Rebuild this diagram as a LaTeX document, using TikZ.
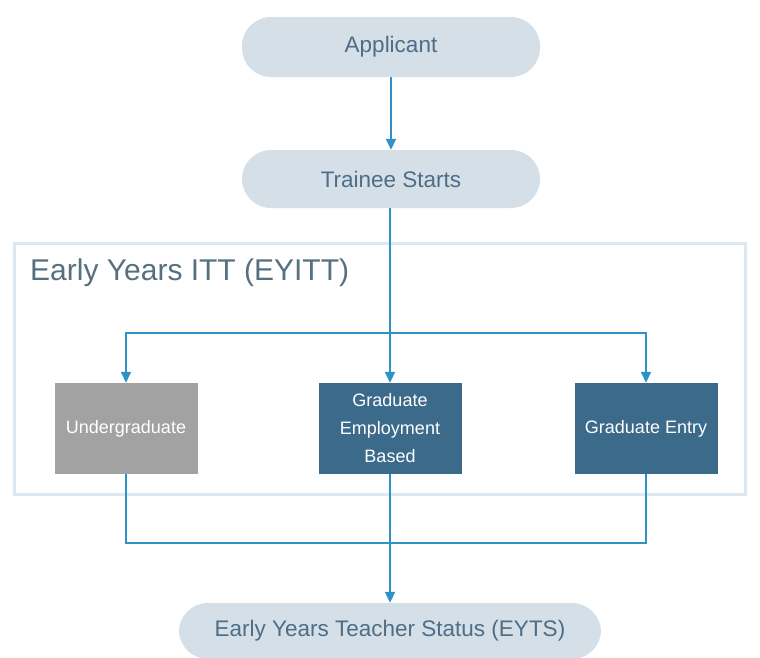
\documentclass[tikz,border=0pt]{standalone}
\usepackage{fontspec}
\setmainfont{Liberation Sans}
\usetikzlibrary{arrows.meta}
\definecolor{pillfill}{HTML}{D4DFE7}
\definecolor{pilltext}{HTML}{4F6D86}
\definecolor{arrowc}{HTML}{2E92C9}
\definecolor{darkbox}{HTML}{3C6A8B}
\definecolor{graybox}{HTML}{A2A2A2}
\definecolor{framec}{HTML}{DCE7EF}
\definecolor{titlec}{HTML}{55707F}
\tikzset{
  pill/.style={draw=none, fill=pillfill, rounded corners=29pt, text=pilltext, font=\fontsize{22.5}{26}\selectfont, inner sep=0pt},
  boxn/.style={draw=none, minimum width=143pt, minimum height=91pt, text=white, font=\fontsize{18}{28}\selectfont, align=center, inner sep=0pt},
  conn/.style={draw=arrowc, line width=1.8pt},
  tip/.style={-{Triangle[width=10pt,length=11pt]}}
}
\begin{document}
\begin{tikzpicture}[x=1pt,y=-1pt]
\useasboundingbox (0,0) rectangle (760,657);
\fill[white] (0,0) rectangle (760,657);
% frame
\draw[framec, line width=3pt] (14,243) rectangle (745,494);
\node[anchor=west, text=titlec, font=\fontsize{30}{34}\selectfont, inner sep=0pt] (title) at (30,273) {Early Years ITT (EYITT)};
% pills
\node[pill, minimum width=298pt, minimum height=60pt] (app) at (391,47) {Applicant};
\node[pill, minimum width=298pt, minimum height=58pt] (trn) at (391,179) {Trainee Starts};
\node[pill, minimum width=422pt, minimum height=56pt] (eyts) at (390,631) {Early Years Teacher Status (EYTS)};
% boxes
\node[boxn, fill=graybox] (ug) at (126,428.5) {Undergraduate};
\node[boxn, fill=darkbox] (geb) at (390,428.5) {Graduate\\Employment\\Based};
\node[boxn, fill=darkbox] (ge) at (646,428.5) {Graduate Entry};
% connectors
\draw[conn, tip] (app.south) -- (trn.north);
\coordinate (split) at (390,333);
\coordinate (join) at (390,543);
\draw[conn, tip] (trn.south -| geb) -- (geb.north);
\draw[conn, line width=1.5pt, tip] (split) -| (ug.north);
\draw[conn, line width=1.5pt, tip] (split) -| (ge.north);
\draw[conn, line width=1.5pt] (ug.south) |- (join);
\draw[conn, line width=1.5pt] (ge.south) |- (join);
\draw[conn, tip] (geb.south) -- (eyts.north);
\end{tikzpicture}
\end{document}
